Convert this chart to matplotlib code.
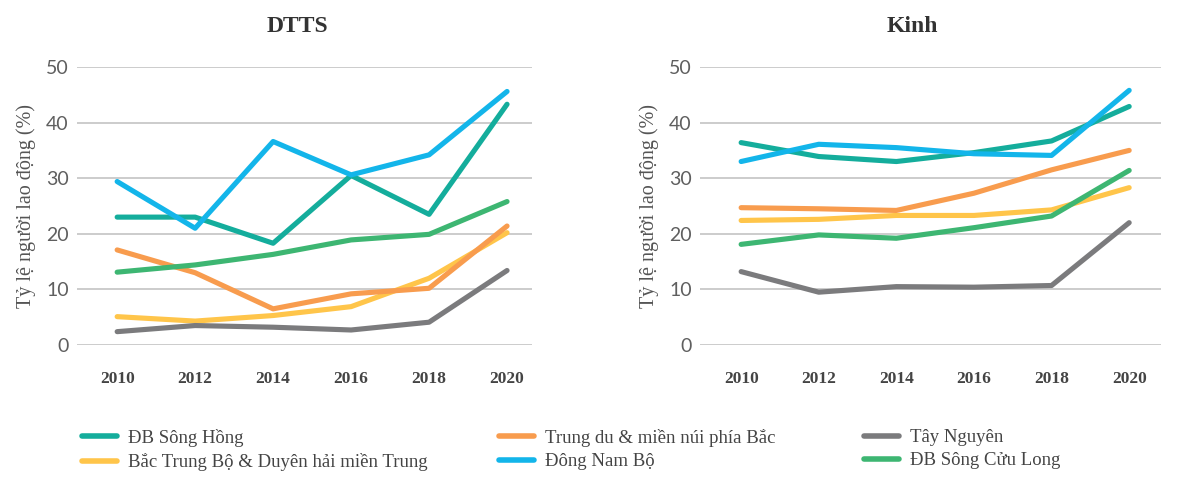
import numpy as np
import matplotlib.pyplot as plt
from matplotlib.lines import Line2D

years = [2010, 2012, 2014, 2016, 2018, 2020]

regions = ['ĐB Sông Hồng', 'Trung du & miền núi phía Bắc', 'Tây Nguyên',
           'Bắc Trung Bộ & Duyên hải miền Trung', 'Đông Nam Bộ', 'ĐB Sông Cửu Long']
colors = ['#14ad9c', '#f89c4e', '#7b7b7d', '#ffc54a', '#13b5ea', '#3db672']

# DTTS
dtts_song_hong = [23.0, 23.0, 18.3, 30.5, 23.5, 43.3]
dtts_trung_du = [17.1, 13.0, 6.5, 9.2, 10.2, 21.4]
dtts_tay_nguyen = [2.4, 3.5, 3.2, 2.7, 4.1, 13.4]
dtts_bac_trung_bo = [5.1, 4.3, 5.3, 6.9, 12.0, 20.2]
dtts_dong_nam_bo = [29.4, 21.0, 36.6, 30.6, 34.2, 45.6]
dtts_cuu_long = [13.1, 14.4, 16.3, 18.9, 19.9, 25.8]

# Kinh
kinh_song_hong = [36.4, 33.9, 33.0, 34.6, 36.7, 42.9]
kinh_trung_du = [24.7, 24.5, 24.2, 27.3, 31.5, 35.0]
kinh_tay_nguyen = [13.2, 9.5, 10.5, 10.4, 10.7, 22.0]
kinh_bac_trung_bo = [22.4, 22.6, 23.3, 23.3, 24.3, 28.3]
kinh_dong_nam_bo = [33.0, 36.1, 35.5, 34.4, 34.1, 45.8]
kinh_cuu_long = [18.1, 19.8, 19.2, 21.1, 23.2, 31.4]

dtts = [dtts_song_hong, dtts_trung_du, dtts_tay_nguyen, dtts_bac_trung_bo, dtts_dong_nam_bo, dtts_cuu_long]
kinh = [kinh_song_hong, kinh_trung_du, kinh_tay_nguyen, kinh_bac_trung_bo, kinh_dong_nam_bo, kinh_cuu_long]

serif = 'Liberation Serif'
fig = plt.figure(figsize=(12, 4.94), dpi=100)

ax1 = fig.add_axes([77 / 1200, 1 - 345 / 494, 455 / 1200, 278 / 494])
ax2 = fig.add_axes([700 / 1200, 1 - 345 / 494, 461 / 1200, 278 / 494])

draw_order = [3, 1, 2, 5, 0, 4]
for ax, data, xlim in [(ax1, dtts, (2008.97, 2020.64)), (ax2, kinh, (2008.94, 2020.82))]:
    for i in draw_order:
        ax.plot(years, data[i], color=colors[i], lw=3.7, solid_capstyle='round',
                solid_joinstyle='round', zorder=3)
    ax.set_xlim(*xlim)
    ax.set_ylim(0, 50)
    ax.set_yticks([0, 10, 20, 30, 40, 50])
    ax.set_xticks(years)
    ax.grid(axis='y', color='#c4c4c4', lw=1.2)
    ax.set_axisbelow(True)
    for s in ax.spines.values():
        s.set_visible(False)
    ax.tick_params(axis='both', length=0)
    ax.tick_params(axis='y', pad=6, labelsize=14, labelcolor='#5f5f5f')
    ax.tick_params(axis='x', pad=19)
    for lab in ax.get_yticklabels():
        lab.set_fontfamily('Lato')
    for lab in ax.get_xticklabels():
        lab.set_fontfamily(serif)
        lab.set_fontweight('bold')
        lab.set_fontsize(12.5)
        lab.set_color('#444444')
    ax.set_ylabel('Tỷ lệ người lao động (%)', family=serif, fontsize=14.5, color='#555555', labelpad=7)

fig.text(297 / 1200, 1 - 27 / 494, 'DTTS', ha='center', va='center', family=serif,
         fontweight='bold', fontsize=17, color='#333333')
fig.text(912 / 1200, 1 - 27 / 494, 'Kinh', ha='center', va='center', family=serif,
         fontweight='bold', fontsize=17, color='#333333')

# legend: three columns, two rows each
columns = [[0, 3], [1, 4], [2, 5]]
col_x = [82, 499, 864]
for idx, xpix in zip(columns, col_x):
    handles = [Line2D([], [], color=colors[i], lw=4, solid_capstyle='round') for i in idx]
    leg = fig.legend(handles, [regions[i] for i in idx], loc='upper left',
                     bbox_to_anchor=(xpix / 1200, 1 - 429 / 494), frameon=False,
                     prop={'family': serif, 'size': 13.5}, labelcolor='#444444',
                     handlelength=1.85, handletextpad=0.6, labelspacing=0.33,
                     borderpad=0, borderaxespad=0)

fig.savefig('out.png', dpi=100)
